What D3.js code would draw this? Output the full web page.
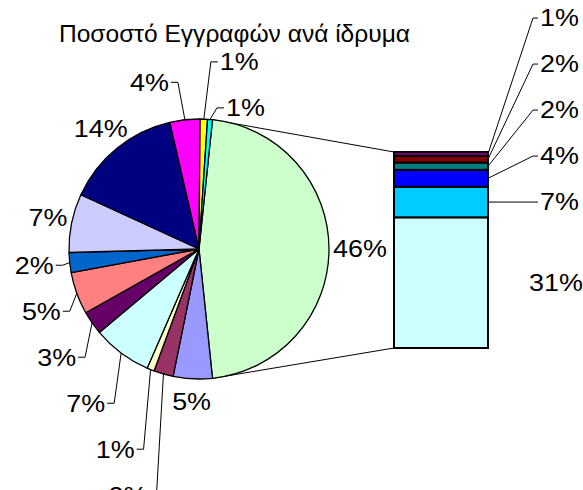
<!DOCTYPE html>
<html>
<head>
<meta charset="utf-8">
<script src="https://cdn.jsdelivr.net/npm/d3@7"></script>
<style>
  body { margin: 0; background: #fff; }
  text { font-family: Arial, "Liberation Sans", sans-serif; fill: #000; }
</style>
</head>
<body>
<svg width="583" height="490"></svg>
<script>
// Pie slices (percent), clockwise starting just after the "other" slice
const pieShares = [4.8, 2.4, 0.9, 7.3, 2.9, 5.2, 2.45, 7.2, 14.4, 3.7, 0.9, 0.6];
const pieColors = ['#9999FF', '#993366', '#FFFFCC', '#CCFFFF', '#660066', '#FF8080',
                   '#0066CC', '#CCCCFF', '#000080', '#FF00FF', '#FFFF00', '#00FFFF'];
// Split-out shares shown in the bar, bottom to top
const barShares = [30.8, 7.2, 4.0, 1.7, 1.6, 0.9];
const barColors = ['#CCFFFF', '#00CCFF', '#0000FF', '#008080', '#800000', '#800080'];
const otherColor = '#CCFFCC';
const title = 'Ποσοστό Εγγραφών ανά ίδρυμα';

// layout
const cx = 199, cy = 249, r = 130;
const bar = {left: 394, right: 488, top: 152, bottom: 348};
const fontSize = 23, stretch = 1.17, rowGap = 46, clearance = 52;

const svg = d3.select('svg');
const fmt = v => Math.round(v) + '%';
const onCircle = (a, rad) => [cx + rad * Math.sin(a), cy - rad * Math.cos(a)];

// text width probe (labels are drawn horizontally stretched like the original)
const probe = svg.append('text').attr('font-size', fontSize);
function textW(s) {
  probe.text(s);
  return probe.node().getComputedTextLength() * stretch;
}

// pie: the "other" slice is centred on the right, facing the bar
const otherShare = d3.sum(barShares);
const total = otherShare + d3.sum(pieShares);
const otherAngle = 2 * Math.PI * otherShare / total;
const start = Math.PI / 2 - otherAngle / 2;

const slices = [{value: otherShare, color: otherColor}]
  .concat(pieShares.map((v, i) => ({value: v, color: pieColors[i]})));
const arcs = d3.pie().sort(null).value(d => d.value)
  .startAngle(start).endAngle(start + 2 * Math.PI)(slices);
const arc = d3.arc().innerRadius(0).outerRadius(r);

// bar scale
const yBar = d3.scaleLinear().domain([0, otherShare]).range([bar.bottom, bar.top]);
const stackData = barShares.map((v, i) => ({
  value: v, color: barColors[i], y0: d3.sum(barShares.slice(0, i))
}));

// connector lines pie -> bar
const joinTop = onCircle(arcs[0].startAngle, r), joinBottom = onCircle(arcs[0].endAngle, r);
svg.append('g').attr('stroke', '#000').attr('stroke-width', 1)
  .selectAll('line')
  .data([[joinTop, [bar.left, yBar(otherShare)]], [joinBottom, [bar.left, yBar(0)]]])
  .join('line')
  .attr('x1', d => d[0][0]).attr('y1', d => d[0][1])
  .attr('x2', d => d[1][0]).attr('y2', d => d[1][1]);

// pie slices
svg.append('g').attr('transform', 'translate(' + cx + ',' + cy + ')')
  .selectAll('path')
  .data(arcs).join('path')
  .attr('d', arc)
  .attr('fill', d => d.data.color)
  .attr('stroke', '#000')
  .attr('stroke-width', 1.3)
  .attr('stroke-linejoin', 'round');

// bar segments
svg.append('g').selectAll('rect')
  .data(stackData).join('rect')
  .attr('x', bar.left)
  .attr('width', bar.right - bar.left)
  .attr('y', d => yBar(d.y0 + d.value))
  .attr('height', d => yBar(d.y0) - yBar(d.y0 + d.value))
  .attr('fill', d => d.color)
  .attr('stroke', '#000')
  .attr('stroke-width', 2);

// pie labels: default outside position, then stacked per side with leaders
const labels = arcs.map(d => {
  const a = ((d.startAngle + d.endAngle) / 2) % (2 * Math.PI);
  const text = fmt(d.data.value);
  const w = textW(text);
  const s = Math.sin(a), c = Math.cos(a);
  const dist = r + 4 + Math.abs(s) * w / 2 + Math.abs(c) * (c > 0 ? 6 : 18);
  const [x, y] = onCircle(a, dist);
  const straddle = Math.abs(x - cx) < w / 2;
  return {a, text, w, x, y, edge: onCircle(a, r), left: s < 0, upper: c > 0,
          free: straddle && c <= 0, forced: straddle && c > 0, moved: false};
});

function stack(group, dir, prev) {
  group.sort((p, q) => Math.abs(Math.cos(p.a)) - Math.abs(Math.cos(q.a)));
  group.forEach(l => {
    if (prev != null && dir * (prev + dir * clearance - l.y) > 0) {
      l.moved = true;
      l.y = dir > 0 ? Math.max(l.y, prev + rowGap) : Math.min(l.y, prev - rowGap);
    }
    if (l.forced) l.moved = true;
    prev = l.y;
  });
}
[true, false].forEach(side => {
  const grp = labels.filter(l => l.left === side && !l.free);
  const up = grp.filter(l => l.upper), down = grp.filter(l => !l.upper);
  stack(up, -1, null);
  stack(down, 1, up.length ? up[0].y : null);
});

labels.forEach(l => {
  if (!l.moved) return;
  if (l.left) {
    l.x = l.edge[0] - 16 - l.w / 2;
    l.leader = [l.edge, [l.x + l.w / 2 + 9, l.y], [l.x + l.w / 2 + 2, l.y]];
  } else {
    l.x = l.edge[0] + 16 + l.w / 2;
    l.leader = [l.edge, [l.x - l.w / 2 - 9, l.y], [l.x - l.w / 2 - 2, l.y]];
  }
});

// bar labels, stacked upward from the bottom segment
let prevY = null;
const barLabels = stackData.map(d => {
  const mid = yBar(d.y0 + d.value / 2);
  const h = yBar(d.y0) - yBar(d.y0 + d.value);
  const text = fmt(d.value), w = textW(text);
  const l = {text, w};
  if (h >= 40 && (prevY == null || mid < prevY - clearance)) {
    l.y = mid;
    l.x = bar.right + 41 + w / 2;
  } else {
    l.y = prevY == null ? mid : Math.min(mid, prevY - rowGap);
    l.x = bar.right + 52 + w / 2;
    l.leader = [[bar.right, mid], [bar.right + 45, l.y], [bar.right + 50, l.y]];
  }
  prevY = l.y;
  return l;
});

const allLabels = labels.concat(barLabels);
probe.remove();

// leader lines
svg.append('g').selectAll('path')
  .data(allLabels.filter(l => l.leader)).join('path')
  .attr('d', l => d3.line()(l.leader))
  .attr('fill', 'none')
  .attr('stroke', '#000')
  .attr('stroke-width', 1);

// label text
svg.append('g').selectAll('text')
  .data(allLabels).join('text')
  .attr('transform', l => 'translate(' + l.x + ',' + (l.y + 0.36 * fontSize) + ') scale(' + stretch + ',1)')
  .attr('text-anchor', 'middle')
  .attr('font-size', fontSize)
  .text(l => l.text);

// title
svg.append('text')
  .attr('x', 234.5).attr('y', 42)
  .attr('text-anchor', 'middle')
  .attr('font-size', 23)
  .attr('textLength', 351)
  .attr('lengthAdjust', 'spacingAndGlyphs')
  .text(title);
</script>
</body>
</html>
